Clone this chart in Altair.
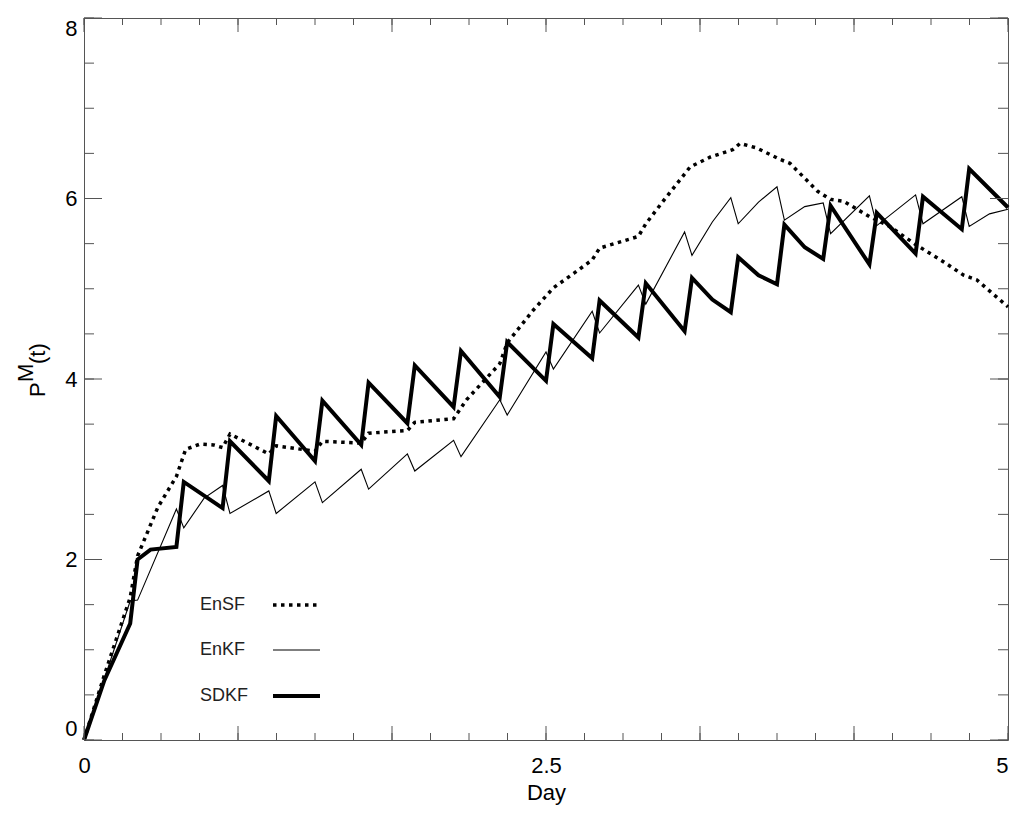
import altair as alt
import pandas as pd

# ---- data ----
ensf_day = [0, 0.107, 0.25, 0.29, 0.40, 0.50, 0.55, 0.63, 0.70, 0.75, 0.79, 1.0, 1.04,
            1.25, 1.29, 1.5, 1.54, 1.75, 1.79, 2.0, 2.07, 2.16, 2.25, 2.29, 2.43, 2.54,
            2.65, 2.75, 2.79, 3.0, 3.04, 3.13, 3.28, 3.39, 3.51, 3.55, 3.64, 3.77, 3.82,
            3.97, 4.04, 4.11, 4.25, 4.36, 4.50, 4.65, 4.76, 4.83, 5.0]
ensf_p = [0, 0.70, 1.58, 2.04, 2.58, 2.92, 3.22, 3.28, 3.27, 3.24, 3.39, 3.17, 3.26,
          3.20, 3.31, 3.29, 3.40, 3.43, 3.52, 3.56, 3.77, 3.97, 4.17, 4.40, 4.76, 5.01,
          5.17, 5.32, 5.45, 5.58, 5.72, 5.96, 6.35, 6.46, 6.54, 6.61, 6.56, 6.43, 6.39,
          6.08, 5.99, 5.97, 5.80, 5.69, 5.49, 5.30, 5.15, 5.10, 4.80]

enkf_day = [0, 0.25, 0.29, 0.5, 0.54, 0.65, 0.75, 0.79, 1.0, 1.04, 1.25, 1.29, 1.5, 1.54,
            1.75, 1.79, 2.0, 2.04, 2.25, 2.29, 2.5, 2.54, 2.75, 2.79, 3.0, 3.04, 3.25,
            3.29, 3.40, 3.5, 3.54, 3.65, 3.75, 3.79, 3.9, 4.0, 4.04, 4.25, 4.29, 4.5,
            4.54, 4.75, 4.79, 4.9, 5.0]
enkf_p = [0, 1.54, 1.55, 2.56, 2.35, 2.68, 2.82, 2.51, 2.76, 2.51, 2.86, 2.63, 3.0, 2.78,
          3.17, 2.98, 3.32, 3.14, 3.77, 3.60, 4.30, 4.11, 4.75, 4.51, 5.04, 4.83, 5.63,
          5.37, 5.74, 6.01, 5.72, 5.96, 6.13, 5.76, 5.91, 5.95, 5.61, 6.03, 5.70, 6.04,
          5.72, 6.02, 5.69, 5.83, 5.88]

sdkf_day = [0, 0.11, 0.25, 0.29, 0.36, 0.5, 0.54, 0.75, 0.79, 1.0, 1.04, 1.25, 1.29, 1.5,
            1.54, 1.75, 1.79, 2.0, 2.04, 2.25, 2.29, 2.5, 2.54, 2.75, 2.79, 3.0, 3.04,
            3.25, 3.29, 3.40, 3.5, 3.54, 3.65, 3.75, 3.79, 3.90, 4.0, 4.04, 4.25, 4.29,
            4.5, 4.54, 4.75, 4.79, 5.0]
sdkf_p = [0, 0.66, 1.29, 2.0, 2.11, 2.14, 2.86, 2.57, 3.31, 2.87, 3.59, 3.09, 3.76, 3.27,
          3.96, 3.51, 4.15, 3.69, 4.31, 3.80, 4.41, 3.98, 4.61, 4.23, 4.87, 4.46, 5.06,
          4.53, 5.12, 4.88, 4.74, 5.35, 5.15, 5.05, 5.71, 5.46, 5.33, 5.92, 5.27, 5.84,
          5.39, 6.02, 5.66, 6.33, 5.90]

x_labels = [0, 2.5, 5]
x_major = [0, 5 / 6, 10 / 6, 2.5, 20 / 6, 25 / 6, 5]
x_minor = [i * 5 / 24 for i in range(25)]
y_labels = [0, 2, 4, 6, 8]
y_minor = [i * 0.5 for i in range(17)]

legend_names = ["EnSF", "EnKF", "SDKF"]
y_title_parts = ["P", "M", "(t)"]

# ---- layout ----
W, H = 924, 722
AX = "#555555"
FONT = "Liberation Sans"

x_scale = alt.Scale(domain=[0, 5], nice=False, zero=False)
y_scale = alt.Scale(domain=[0, 8], nice=False, zero=False)

x_axis = alt.Axis(
    values=x_labels, ticks=False, domain=False, grid=False,
    labelExpr="datum.value", labelFont=FONT, labelFontSize=22, labelColor="black",
    labelPadding=15, labelAlign=alt.expr("datum.value == 5 ? 'right' : 'center'"),
    title="Day", titleFont=FONT, titleFontSize=22, titleFontWeight="normal",
    titleColor="black", titlePadding=6,
)
y_axis = alt.Axis(
    values=y_labels, ticks=False, domain=False, grid=False, labelFlush=True,
    labelFont=FONT, labelFontSize=22, labelColor="black", labelPadding=7, title=None,
)


def curve(day, p, **style):
    df = pd.DataFrame({"day": day, "p": p})
    return alt.Chart(df).mark_line(color="black", **style).encode(
        x=alt.X("day:Q", scale=x_scale, axis=x_axis),
        y=alt.Y("p:Q", scale=y_scale, axis=y_axis),
    )


def x_ticks(values, length):
    src = alt.Chart(pd.DataFrame({"v": values}))
    x = alt.X("v:Q", scale=x_scale, axis=x_axis)
    bottom = src.mark_rule(color=AX).encode(x=x, y=alt.value(H), y2=alt.value(H - length))
    top = src.mark_rule(color=AX).encode(x=x, y=alt.value(0), y2=alt.value(length))
    return bottom + top


def y_ticks(values, length):
    src = alt.Chart(pd.DataFrame({"v": values}))
    y = alt.Y("v:Q", scale=y_scale, axis=y_axis)
    left = src.mark_rule(color=AX).encode(y=y, x=alt.value(0), x2=alt.value(length))
    right = src.mark_rule(color=AX).encode(y=y, x=alt.value(W), x2=alt.value(W - length))
    return left + right


def legend_item(label, ypx, **style):
    src = alt.Chart(pd.DataFrame({"label": [label]}))
    text = src.mark_text(
        align="left", baseline="middle", font="Liberation Sans Narrow, " + FONT,
        fontSize=18, color="#222222",
    ).encode(x=alt.value(116), y=alt.value(ypx), text="label:N")
    line = src.mark_rule(color="black", **style).encode(
        x=alt.value(189), x2=alt.value(236), y=alt.value(ypx)
    )
    return text + line


def title_piece(label, xpx, ypx):
    # rotated pieces of the y title, so that the M can sit raised like a superscript
    return alt.Chart(pd.DataFrame({"label": [label]})).mark_text(
        angle=270, align="left", baseline="alphabetic", font=FONT, fontSize=22,
        color="black",
    ).encode(x=alt.value(xpx), y=alt.value(ypx), text="label:N")


dotted = dict(strokeWidth=3.5, strokeDash=[3.5, 4.5])
thin = dict(strokeWidth=1.1)
thick = dict(strokeWidth=4)

chart = alt.layer(
    curve(ensf_day, ensf_p, **dotted),
    curve(enkf_day, enkf_p, **thin),
    curve(sdkf_day, sdkf_p, **thick),
    x_ticks(x_minor, 7),
    x_ticks(x_major, 14),
    y_ticks(y_minor, 10),
    y_ticks(y_labels, 18),
    legend_item(legend_names[0], 587, **dotted),
    legend_item(legend_names[1], 632, **thin),
    legend_item(legend_names[2], 678, **thick),
    title_piece(y_title_parts[0], -39, 379),
    title_piece(y_title_parts[1], -51, 364),
    title_piece(y_title_parts[2], -39, 346),
).properties(
    width=W, height=H,
    autosize=alt.AutoSizeParams(type="none"),
    padding={"left": 76, "top": 10, "right": 8, "bottom": 70},
).configure_view(stroke=AX, strokeWidth=1)

chart.save("out.html", embed_options={"renderer": "svg", "actions": False})
